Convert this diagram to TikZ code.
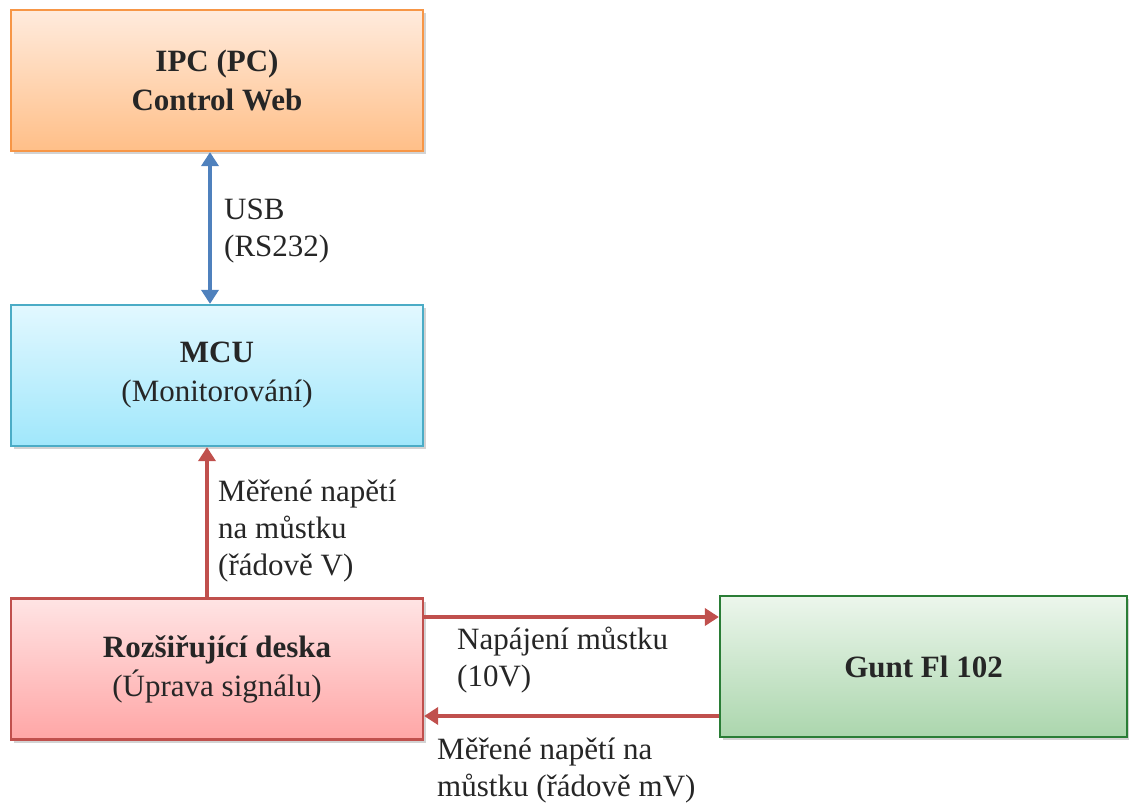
\documentclass[tikz,border=0pt]{standalone}
\usepackage{fontspec}
\setmainfont{Liberation Serif}
\usetikzlibrary{arrows.meta,shadows}

\definecolor{ipcLine}{HTML}{F79646}
\definecolor{ipcTop}{HTML}{FFEBDD}
\definecolor{ipcBottom}{HTML}{FFBF88}
\definecolor{mcuLine}{HTML}{4BACC6}
\definecolor{mcuTop}{HTML}{E2F8FF}
\definecolor{mcuBottom}{HTML}{A0E7FB}
\definecolor{boardLine}{HTML}{C0504D}
\definecolor{boardTop}{HTML}{FFE4E4}
\definecolor{boardBottom}{HTML}{FFA6A6}
\definecolor{guntLine}{HTML}{2A7D36}
\definecolor{guntTop}{HTML}{ECF6EC}
\definecolor{guntBottom}{HTML}{ABD6AD}
\definecolor{usbLine}{HTML}{4F81BD}
\definecolor{sigLine}{HTML}{C0504D}
\definecolor{txt}{HTML}{262626}

\begin{document}
\begin{tikzpicture}[x=1pt,y=-1pt]
\useasboundingbox (0,0) rectangle (1129,804);

\tikzstyle{block}=[rectangle,draw,line width=2.2pt,minimum width=412pt,minimum height=141pt,inner sep=0pt,align=center,text=txt,font=\fontsize{31}{39}\selectfont,drop shadow={shadow xshift=3pt,shadow yshift=-3pt,opacity=0.35}]
\tikzstyle{ipcBlock}=[block,draw=ipcLine,top color=ipcTop,bottom color=ipcBottom]
\tikzstyle{mcuBlock}=[block,draw=mcuLine,top color=mcuTop,bottom color=mcuBottom]
\tikzstyle{boardBlock}=[block,draw=boardLine,top color=boardTop,bottom color=boardBottom]
\tikzstyle{guntBlock}=[block,draw=guntLine,top color=guntTop,bottom color=guntBottom,minimum width=407pt]
\tikzstyle{link}=[line width=4pt,-{Triangle[length=14pt,width=17pt]}]
\tikzstyle{note}=[align=left,anchor=west,inner sep=0pt,text=txt,font=\fontsize{31}{37}\selectfont]

%Blocks
\node[ipcBlock] (ipc) at (217,80.5) {\textbf{IPC (PC)}\\\textbf{Control Web}};
\node[mcuBlock] (mcu) at (217,375.5) {\textbf{MCU}\\(Monitorování)};
\node[boardBlock] (board) at (217,669) {\textbf{Rozšiřující deska}\\(Úprava signálu)};
\node[guntBlock] (gunt) at (923.5,666.5) {\textbf{Gunt Fl 102}};

%Labels
\node[note] (usb) at (224,231) {USB\\(RS232)};
\node[note] (measV) at (218,531) {Měřené napětí\\na můstku\\(řádově V)};
\node[note] (power) at (457,660) {Napájení můstku\\(10V)};
\node[note] (measmV) at (437,770) {Měřené napětí na\\můstku (řádově mV)};

%Connections
\coordinate (powerY) at (0,617);
\coordinate (backY) at (0,716);
\draw[link,usbLine,{Triangle[length=14pt,width=17pt]}-{Triangle[length=14pt,width=17pt]}] ([xshift=-7pt]ipc.south) -- ([xshift=-7pt]mcu.north);
\draw[link,sigLine] ([xshift=-10pt]board.north) -- ([xshift=-10pt]mcu.south);
\draw[link,sigLine] (board.east |- powerY) -- (gunt.west |- powerY);
\draw[link,sigLine] (gunt.west |- backY) -- (board.east |- backY);

\end{tikzpicture}
\end{document}
